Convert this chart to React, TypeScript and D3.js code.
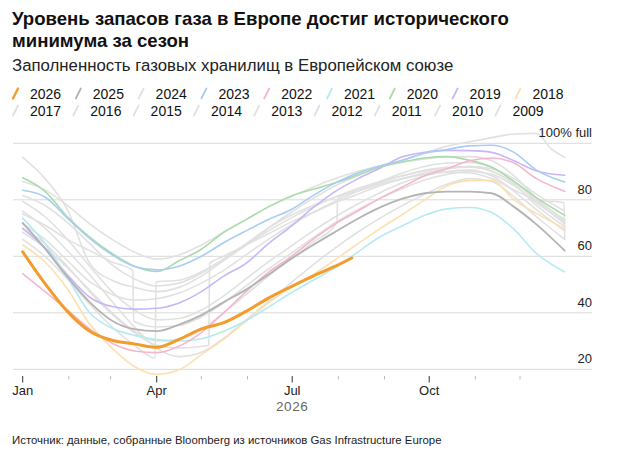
import { useEffect, useRef } from "react";
import * as d3 from "d3";

// shared sampling grid, day of year (0 = 1 Jan)
const DAYS = [0, 15, 30, 45, 60, 75, 90, 105, 120, 135, 150, 165, 180, 195, 210, 225, 240, 255, 270, 285, 300, 315, 330, 345, 364];

const DAYS_2026 = [0, 15, 30, 45, 60, 75, 90, 105, 120, 135, 150, 165, 180, 195, 210, 221];
const V2026 = [61.6, 50.3, 40.5, 33.5, 30.3, 29.0, 27.8, 30.6, 34.3, 36.5, 40.5, 45.2, 49.2, 53.0, 56.5, 59.4];

const V2025 = [71.8, 62.7, 52.7, 43.8, 37.2, 34.2, 33.5, 35.8, 39.2, 43.8, 48.2, 53.5, 59.0, 64.0, 68.7, 73.3, 77.3, 80.4, 82.3, 82.9, 82.9, 82.3, 77.5, 71.3, 62.0];
const V2024 = [86.5, 83.5, 78, 71.5, 66, 61.5, 59, 60.5, 64, 68.5, 73, 77.5, 81, 84.5, 87.5, 90, 92, 93.3, 94.5, 95.2, 95.3, 93.8, 88.5, 80.5, 72.5];
const V2023 = [83.4, 81, 73.5, 66.3, 60.5, 56.4, 55.2, 56.5, 60, 64.8, 69, 73, 76.5, 81.5, 86, 89.5, 92, 94, 96.5, 97.8, 99.1, 99.3, 96.8, 90.5, 86.3];
const V2022 = [53.9, 47.5, 41, 34.3, 29.2, 26.5, 25.9, 28.2, 33, 40, 47.5, 54.3, 59.8, 66, 71.5, 76, 80.5, 84.5, 88.5, 91, 93.8, 94.8, 93, 87.5, 83];
const V2021 = [73.5, 64.5, 52.5, 40, 34.5, 32, 30.5, 30, 30.8, 33.5, 37.2, 42, 47, 51.5, 56, 61.5, 66.9, 70.8, 74.5, 76.8, 77.3, 75.5, 69.5, 61, 54.5];
const V2020 = [87.8, 83, 74, 66.8, 61, 56.5, 54.6, 58.4, 62.5, 68.5, 73, 77.5, 81.3, 83.7, 86, 88.8, 91.6, 93.4, 94.8, 95.3, 94, 91.5, 86.5, 80.8, 74.5];
const V2019 = [69.8, 63, 53.5, 45.5, 42.2, 41.3, 41.6, 43.5, 47.5, 53, 57.5, 64.5, 70.5, 77.2, 83, 87.4, 91.2, 95.2, 96.8, 97.5, 97.4, 96.8, 93.8, 90.2, 88.7];
const V2018 = [64, 58, 48.5, 36, 27.5, 21, 18.2, 19.8, 25.2, 30.6, 37, 43.5, 49, 53.5, 58.8, 64.4, 69.8, 74.8, 80, 85, 86.8, 86.9, 80, 75.2, 69.8];
const V2017 = [76, 70, 62, 53.5, 44, 35, 27.5, 24.5, 26, 31, 37.5, 44, 50.5, 57, 63, 68.5, 73.5, 78, 82, 85.5, 87.5, 86.5, 81, 74, 66];
const V2016 = [71.5, 66, 58.5, 51, 46.5, 44.5, 45, 47, 50.5, 55, 60.5, 66, 71, 75.5, 79.5, 83, 86.5, 89.5, 91.8, 93, 93.2, 91.5, 86.5, 79.5, 71.5];
const V2015 = [81.5, 78, 72, 64.5, 57, 52, 49.5, 50.5, 54, 59, 64.5, 70, 74.5, 78, 81, 83.5, 86, 88.5, 90.5, 91.5, 91.8, 90.2, 85.5, 78, 70.5];
const V2014 = [79.5, 74, 66, 56.5, 47.5, 41, 37.5, 38, 41, 46, 52, 58, 63.5, 69, 74, 78.5, 82.5, 86, 88.5, 90, 90.5, 88.5, 83, 76.5, 69];

// older years have breaks in the record, so they keep their own day lists
const DAYS_2013 = [0, 15, 30, 45, 60, 74, 74.5, 90, 105, 120, 135, 150, 165, 180, 195, 210, 225, 240, 255, 270, 285, 300, 315, 330, 345, 364];
const V2013 = [75, 71, 66, 62, 58, 55, 37, 35, 35.5, 38.5, 43.5, 49.5, 55.5, 61, 66.5, 72, 76.5, 80.5, 84, 87, 89, 90, 89, 85, 79, 72];
const DAYS_2012 = [0, 15, 30, 45, 60, 75, 89, 89.5, 105, 120, 135, 150, 165, 180, 195, 210, 225, 240, 255, 270, 285, 300, 315, 330, 345, 364];
const V2012 = [66, 60, 52, 43, 35, 28.5, 24, 51, 51.5, 54.5, 59, 64, 69, 73.5, 77.5, 81, 84, 86.5, 88.5, 90.2, 91.2, 91.5, 90, 86, 80, 73];
const DAYS_2011 = [0, 15, 30, 45, 60, 75, 90, 105, 125, 125.5, 135, 150, 165, 180, 195, 210, 225, 240, 255, 270, 285, 300, 315, 330, 345, 364];
const V2011 = [70, 64.5, 56.5, 47.5, 39.5, 33, 28.5, 27.5, 28.5, 57.5, 60, 64, 68, 72, 75.5, 79, 82, 85, 87.5, 89.5, 91, 91.8, 91, 87.5, 82, 76];
const DAYS_2010 = [0, 15, 30, 45, 60, 75, 90, 105, 120, 135, 150, 165, 180, 195, 211, 211.5, 225, 240, 255, 270, 285, 300, 315, 330, 345, 363.5, 364];
const V2010 = [68.5, 63, 56, 48, 40, 33.5, 30, 30.5, 34, 40, 46.5, 53, 59, 65, 72, 80.5, 83, 85.5, 87.5, 89, 89.8, 89.5, 87.5, 83.5, 80, 79, 66];
const DAYS_2009 = [0, 15, 30, 45, 60, 75, 90, 105, 120, 135, 150, 165, 180, 195, 210, 225, 240, 255, 270, 285, 300, 315, 330, 345, 355, 364];
const V2009 = [95, 87.5, 76.5, 57.5, 51.5, 49, 47.5, 49, 53, 58.5, 64, 70, 75.5, 80.5, 85, 88.5, 91.5, 94, 96.5, 99, 100.5, 102, 103.3, 103.5, 98, 95];

const LEGEND_ROW1 = ["2026", "2025", "2024", "2023", "2022", "2021", "2020", "2019", "2018"];
const LEGEND_ROW2 = ["2017", "2016", "2015", "2014", "2013", "2012", "2011", "2010", "2009"];
const Y_TICKS = [20, 40, 60, 80, 100];
const MAJOR_MONTHS = ["Jan", "Apr", "Jul", "Oct"];

const TITLE = ["Уровень запасов газа в Европе достиг исторического", "минимума за сезон"];
const SUBTITLE = "Заполненность газовых хранилищ в Европейском союзе";
const SOURCE = "Источник: данные, собранные Bloomberg из источников Gas Infrastructure Europe";

const GRAY = "#e1e1e1";
const COLORS: Record<string, string> = {
  "2026": "#f39b2b",
  "2025": "#b4b4b4",
  "2023": "#a9cdf3",
  "2022": "#f4b6cf",
  "2021": "#b5eaf3",
  "2020": "#aadcaa",
  "2019": "#c9b6f6",
  "2018": "#fde0b2",
};

interface Serie {
  year: string;
  days: number[];
  values: number[];
}

// draw order: background years first, 2026 on top
const SERIES: Serie[] = [
  { year: "2009", days: DAYS_2009, values: V2009 },
  { year: "2010", days: DAYS_2010, values: V2010 },
  { year: "2011", days: DAYS_2011, values: V2011 },
  { year: "2012", days: DAYS_2012, values: V2012 },
  { year: "2013", days: DAYS_2013, values: V2013 },
  { year: "2014", days: DAYS, values: V2014 },
  { year: "2015", days: DAYS, values: V2015 },
  { year: "2016", days: DAYS, values: V2016 },
  { year: "2017", days: DAYS, values: V2017 },
  { year: "2024", days: DAYS, values: V2024 },
  { year: "2018", days: DAYS, values: V2018 },
  { year: "2019", days: DAYS, values: V2019 },
  { year: "2020", days: DAYS, values: V2020 },
  { year: "2021", days: DAYS, values: V2021 },
  { year: "2022", days: DAYS, values: V2022 },
  { year: "2023", days: DAYS, values: V2023 },
  { year: "2025", days: DAYS, values: V2025 },
  { year: "2026", days: DAYS_2026, values: V2026 },
];

const W = 619;
const H = 458;
const FONT = "'Liberation Sans', Arial, Helvetica, sans-serif";

export default function App() {
  const svgRef = useRef<SVGSVGElement>(null);

  useEffect(() => {
    if (!svgRef.current) return;
    const svg = d3.select(svgRef.current);
    svg.selectAll("*").remove();
    svg.attr("font-family", FONT);

    svg.append("rect").attr("width", W).attr("height", H).attr("fill", "#fff");

    // Titulos
    const titulo = svg.append("text").attr("font-size", 18.6).attr("font-weight", 700).attr("fill", "#111");
    TITLE.forEach((t, i) => {
      titulo.append("tspan").attr("x", 12).attr("y", 25 + i * 22).text(t);
    });
    svg.append("text").attr("x", 12).attr("y", 71).attr("font-size", 16.8).attr("fill", "#222").text(SUBTITLE);

    // Leyenda
    const colorDe = (year: string) => COLORS[year] || GRAY;
    const leyenda = (filas: string[], paso: number, base: number) => {
      const item = svg
        .append("g")
        .selectAll("g")
        .data(filas)
        .enter()
        .append("g")
        .attr("transform", (_, i) => `translate(${30 + i * paso},${base})`);
      item
        .append("line")
        .attr("x1", -17)
        .attr("y1", 0)
        .attr("x2", -12)
        .attr("y2", -10)
        .attr("stroke", (d) => colorDe(d))
        .attr("stroke-width", (d) => (d === "2026" ? 2.4 : 1.8))
        .attr("stroke-linecap", "round");
      item.append("text").attr("font-size", 14).attr("fill", "#111").text((d) => d);
    };
    leyenda(LEGEND_ROW1, 62.8, 98.5);
    leyenda(LEGEND_ROW2, 60.3, 115.5);

    // Escalas
    const inicio = new Date(2026, 0, 1);
    const fin = new Date(2027, 0, 1);
    const x = d3.scaleLinear().domain([0, d3.timeDay.count(inicio, fin)]).range([22.7, 566.2]);
    const y = d3.scaleLinear().domain([20, 100]).range([369.3, 143.3]);

    // Rejilla
    svg
      .append("g")
      .selectAll("line")
      .data(Y_TICKS)
      .enter()
      .append("line")
      .attr("x1", 13)
      .attr("x2", 592)
      .attr("y1", (d) => y(d))
      .attr("y2", (d) => y(d))
      .attr("stroke", "#dadada")
      .attr("stroke-width", 1);

    // Eje X: un tick por mes
    const meses = d3.timeMonth.range(inicio, fin);
    const ejeX = svg.append("g");
    ejeX
      .selectAll("line")
      .data(meses)
      .enter()
      .append("line")
      .attr("x1", (d) => x(d3.timeDay.count(inicio, d)))
      .attr("x2", (d) => x(d3.timeDay.count(inicio, d)))
      .attr("y1", 376)
      .attr("y2", (d) => (d.getMonth() % 3 === 0 ? 382.5 : 379.5))
      .attr("stroke", (d) => (d.getMonth() % 3 === 0 ? "#333" : "#bbb"))
      .attr("stroke-width", 1);
    ejeX
      .selectAll("text")
      .data(meses.filter((d) => d.getMonth() % 3 === 0))
      .enter()
      .append("text")
      .attr("x", (d) => x(d3.timeDay.count(inicio, d)))
      .attr("y", 394.5)
      .attr("text-anchor", "middle")
      .attr("font-size", 13)
      .attr("fill", "#222")
      .text((_, i) => MAJOR_MONTHS[i]);
    const julio = new Date(2026, 6, 1);
    svg
      .append("text")
      .attr("x", x(d3.timeDay.count(inicio, julio)))
      .attr("y", 410.5)
      .attr("text-anchor", "middle")
      .attr("font-size", 13.5)
      .attr("letter-spacing", 0.6)
      .attr("fill", "#666")
      .text("2026");

    // Lineas
    const linea = d3
      .line<[number, number]>()
      .x((d) => x(d[0]))
      .y((d) => y(d[1]))
      .curve(d3.curveMonotoneX);

    svg
      .append("g")
      .selectAll("path")
      .data(SERIES)
      .enter()
      .append("path")
      .attr("d", (s) => linea(s.days.map((d, i) => [d, s.values[i]] as [number, number])))
      .attr("fill", "none")
      .attr("stroke", (s) => colorDe(s.year))
      .attr("stroke-width", (s) => (s.year === "2026" ? 3 : s.year === "2025" ? 1.9 : 1.6))
      .attr("stroke-linejoin", "round")
      .attr("stroke-linecap", "round");

    // Etiquetas del eje Y, encima de las lineas
    svg
      .append("g")
      .selectAll("text")
      .data(Y_TICKS)
      .enter()
      .append("text")
      .attr("x", 592)
      .attr("y", (d) => y(d) - 6)
      .attr("text-anchor", "end")
      .attr("font-size", 13)
      .attr("fill", "#222")
      .text((d) => (d === 100 ? "100% full" : String(d)));

    // Fuente
    svg.append("text").attr("x", 12).attr("y", 444).attr("font-size", 11.4).attr("fill", "#222").text(SOURCE);
  }, []);

  return (
    <svg
      ref={svgRef}
      width={W}
      height={H}
      viewBox={`0 0 ${W} ${H}`}
      style={{ position: "absolute", left: 0, top: 0, display: "block" }}
    />
  );
}
